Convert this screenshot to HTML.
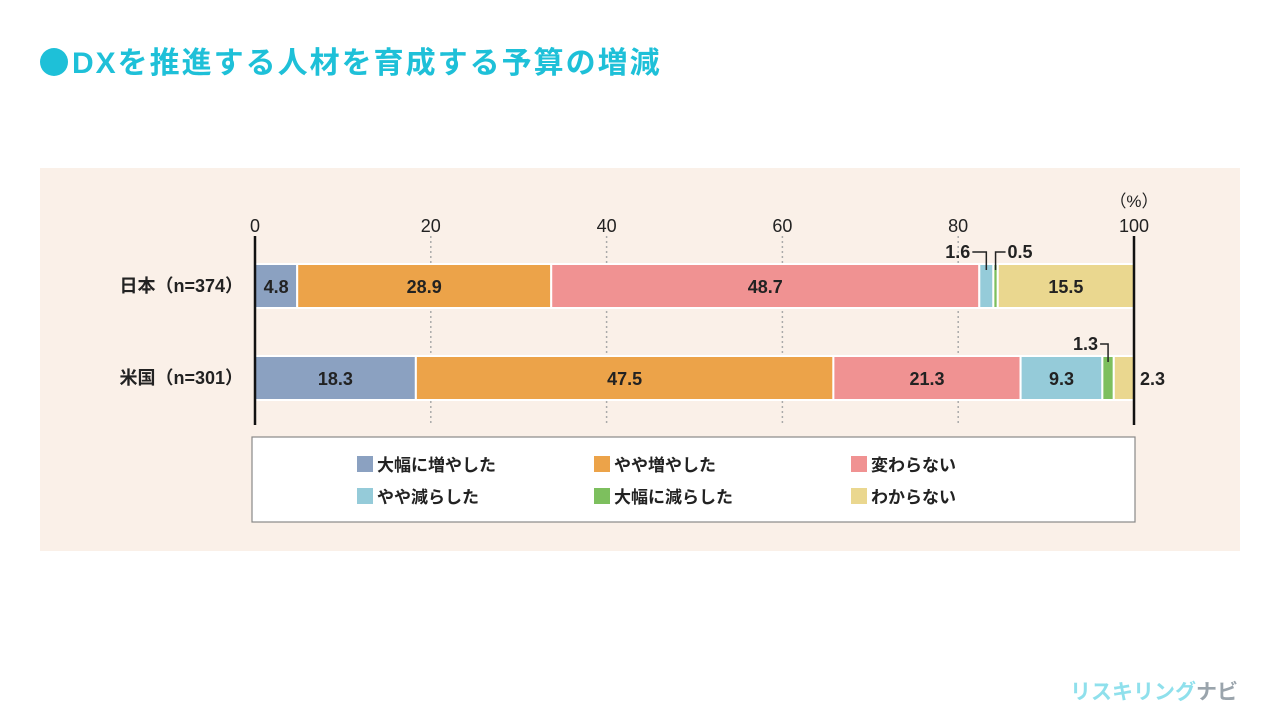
<!DOCTYPE html>
<html><head><meta charset="utf-8">
<style>
body{margin:0;width:1280px;height:720px;background:#fff;font-family:"Liberation Sans","Noto Sans CJK JP",sans-serif;position:relative;overflow:hidden}
#title{position:absolute;left:40px;top:38px;font-size:30px;font-weight:bold;color:#1ec0d8;letter-spacing:2px;white-space:nowrap}
#dot{display:inline-block;width:28px;height:28px;border-radius:50%;background:#1ec0d8;vertical-align:-3px;margin-right:4px}
#panel{position:absolute;left:40px;top:168px;width:1200px;height:383px;background:#faf0e8}
#logo{position:absolute;left:1070px;top:676px;font-size:21px;font-weight:bold;color:#8fe0ec}
</style></head><body>
<div id="title"><span id="dot"></span>DXを推進する人材を育成する予算の増減</div>
<div id="panel"></div>
<svg id="chart" width="1280" height="720" style="position:absolute;left:0;top:0"></svg>
<div id="logo">リスキリング<span style="color:#9aa4ac">ナビ</span></div>
<script>
const categories=["日本（n=374）","米国（n=301）"];
const seriesNames=["大幅に増やした","やや増やした","変わらない","やや減らした","大幅に減らした","わからない"];
const japan=[4.8,28.9,48.7,1.6,0.5,15.5];
const usa=[18.3,47.5,21.3,9.3,1.3,2.3];
const ticks=[0,20,40,60,80,100];
const colors=["#8ba1c1","#eca349","#f09292","#95cbd9","#7dbf5e","#ead78f"];
const NS="http://www.w3.org/2000/svg";
const svg=document.getElementById('chart');
const x0=255,x1=1134;
const xs=v=>x0+(x1-x0)*v/100;
function mk(t,a,txt){const e=document.createElementNS(NS,t);for(const k in a)e.setAttribute(k,a[k]);if(txt!==undefined)e.textContent=txt;svg.appendChild(e);return e;}
ticks.forEach(t=>{
 if(t>0&&t<100){const g=mk('line',{x1:xs(t),x2:xs(t),y1:236,y2:425,stroke:'#aaa','stroke-width':1.5,'stroke-dasharray':'2,3'});
 
 }
 const l=mk('text',{x:xs(t),y:232,'text-anchor':'middle','font-size':18,fill:'#222'},t);
 
 
});
const pct=mk('text',{x:1134,y:207,'text-anchor':'middle','font-size':17,fill:'#222'},'（%）');


const rows=[japan,usa],ys=[264,356],bh=44;
rows.forEach((vals,r)=>{
 const y=ys[r];
 const cl=mk('text',{x:243,y:y+28,'text-anchor':'end','font-size':18,'font-weight':'bold',fill:'#222'},categories[r]);
 
 
 let acc=0;
 vals.forEach((v,i)=>{
  const a=xs(acc),b=xs(acc+v);acc+=v;
  const rc=mk('rect',{x:a,y:y,width:Math.max(b-a,0.5),height:bh,fill:colors[i],stroke:'#fff','stroke-width':2});
  
  
  let tx,ty=y+29,anchor='middle';
  if(v>=3){tx=(a+b)/2;}
  else if(i===5){tx=b+6;anchor='start';}
  else {
   const m=(a+b)/2;
   ty=y-6;
   if(r===0&&i===3){tx=m-16;anchor='end';mk('path',{d:`M${tx+2} ${y-12}H${m}V${y+6}`,stroke:'#222',fill:'none','stroke-width':1.5});}
   else if(r===0){tx=m+12;anchor='start';mk('path',{d:`M${m} ${y+6}V${y-12}H${tx-2}`,stroke:'#222',fill:'none','stroke-width':1.5});}
   else {tx=m-10;anchor='end';mk('path',{d:`M${tx+2} ${y-12}H${m}V${y+6}`,stroke:'#222',fill:'none','stroke-width':1.5});}
  }
  const vl=mk('text',{x:tx,y:ty,'text-anchor':anchor,'font-size':18,'font-weight':'bold',fill:'#222'},v.toFixed(1));
  
  
 });
});
[x0,x1].forEach((x,i)=>{const l=mk('line',{x1:x,x2:x,y1:236,y2:425,stroke:'#111','stroke-width':2.5});
 
 });
const lb=mk('rect',{x:252,y:437,width:883,height:85,fill:'#fff',stroke:'#888','stroke-width':1.2});


const lx=[357,594,851],ly=[464,496];
seriesNames.forEach((n,i)=>{
 const x=lx[i%3],y=ly[Math.floor(i/3)];
 const s=mk('rect',{x:x,y:y-8,width:16,height:16,fill:colors[i]});
 
 
 const t=mk('text',{x:x+20,y:y+7,'font-size':17,'font-weight':'bold',fill:'#222'},n);
 
 
});
</script>
</body></html>
